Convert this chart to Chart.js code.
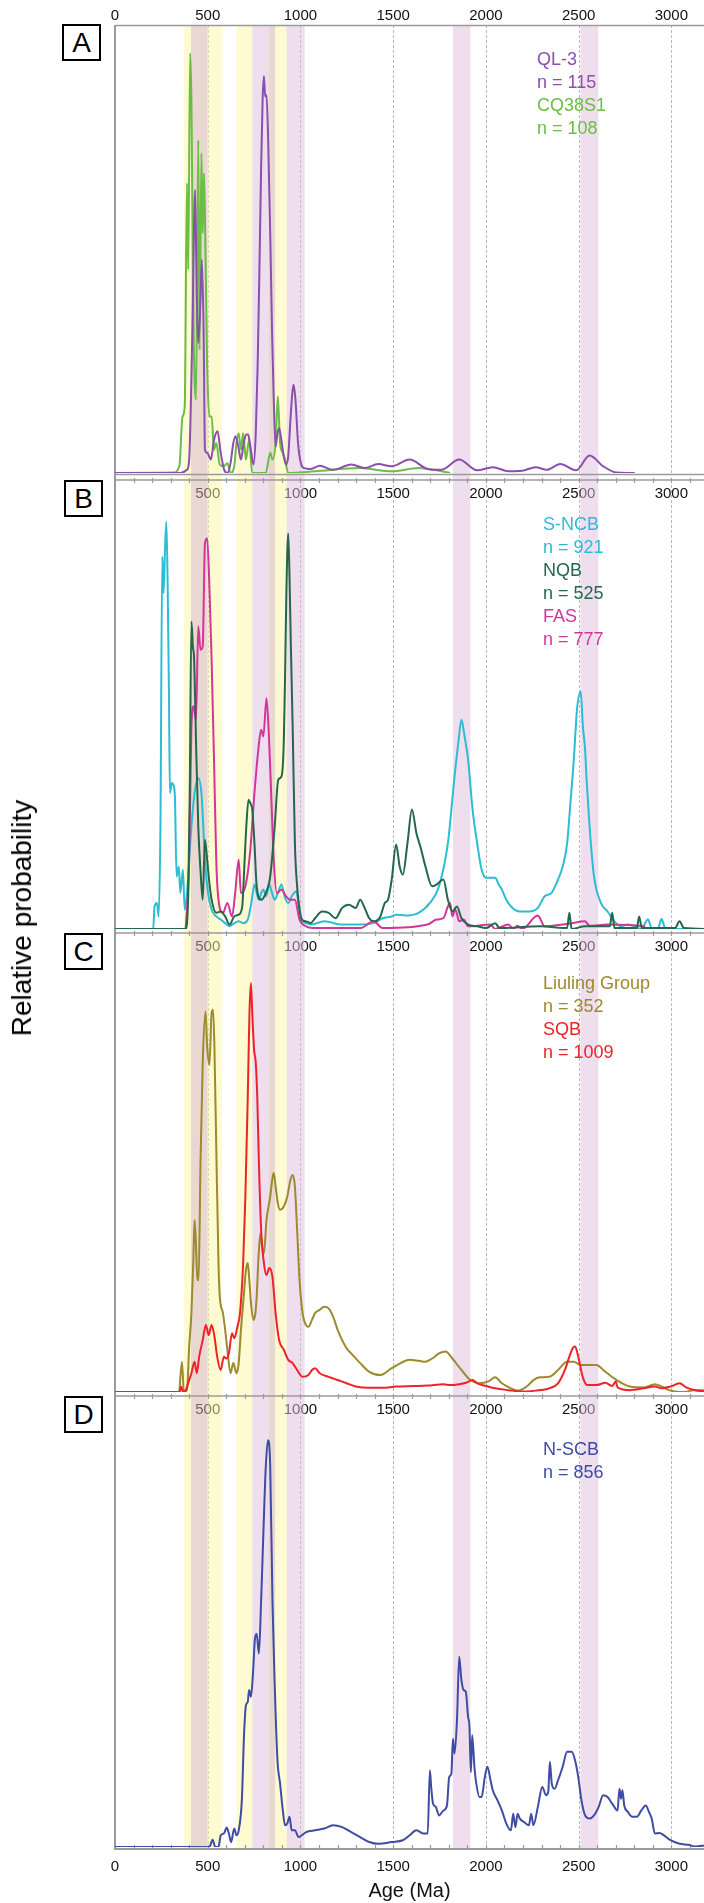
<!DOCTYPE html>
<html><head><meta charset="utf-8">
<script src="https://cdn.jsdelivr.net/npm/chart.js@4.4.1/dist/chart.umd.min.js"></script>
<style>
html,body{margin:0;padding:0;background:#fff;}
body{width:704px;height:1903px;position:relative;overflow:hidden;font-family:"Liberation Sans",Arial,sans-serif;}
canvas{position:absolute;left:0;}
.box{position:absolute;border:2px solid #000;box-sizing:border-box;width:39px;height:37px;font-size:28px;line-height:33px;text-align:center;color:#000;background:#fff;}
.leg{position:absolute;font-size:18px;line-height:23px;white-space:nowrap;}
#ylab{position:absolute;left:22px;top:918px;transform:translate(-50%,-50%) rotate(-90deg);font-size:28px;white-space:nowrap;color:#000;}
</style></head>
<body>
<canvas id="cA"></canvas><canvas id="cB"></canvas><canvas id="cC"></canvas><canvas id="cD"></canvas>
<div class="box" style="left:62px;top:24px;">A</div>
<div class="box" style="left:64px;top:480px;">B</div>
<div class="box" style="left:64px;top:933px;">C</div>
<div class="box" style="left:64px;top:1396px;">D</div>
<div id="ylab">Relative probability</div>
<div class="leg" style="left:537px;top:48px;"><span style="color:#8b4fae">QL-3<br>n = 115</span><br><span style="color:#6abd45">CQ38S1<br>n = 108</span></div>
<div class="leg" style="left:543px;top:513px;"><span style="color:#2bbdd3">S-NCB<br>n = 921</span><br><span style="color:#24684b">NQB<br>n = 525</span><br><span style="color:#d4359a">FAS<br>n = 777</span></div>
<div class="leg" style="left:543px;top:972px;"><span style="color:#9c8a2c">Liuling Group<br>n = 352</span><br><span style="color:#ee2229">SQB<br>n = 1009</span></div>
<div class="leg" style="left:543px;top:1438px;"><span style="color:#3f4ca4">N-SCB<br>n = 856</span></div>
<script>
// ---------- data (age in Ma, relative probability in % of panel height) ----------
const ageTicks = [0, 500, 1000, 1500, 2000, 2500, 3000];
const innerTicks = [500, 1000, 1500, 2000, 2500, 3000];
const bandStart = [370, 410, 500, 655, 740, 828, 864, 926, 1822, 2510];
const bandEnd   = [410, 500, 577, 740, 828, 864, 926, 1022, 1916, 2606];
const bandKind  = ['y','b','y','y','p','b','y','p','p','p'];

const ql3 = [[0,0],[352,0],[388,0.7],[400,3.0],[417,31.2],[432,63.2],[441,38.7],[449,29.0],[461,38.7],[468,47.6],[478,31.2],[485,5.2],[497,4.5],[517,3.0],[534,7.4],[553,9.3],[570,4.5],[589,0.7],[606,0],[623,2.2],[638,6.7],[650,8.2],[665,5.9],[679,3.0],[694,6.7],[708,8.6],[718,8.6],[730,5.9],[747,1.9],[759,8.9],[769,23.8],[779,46.1],[788,68.4],[796,83.3],[803,88.6],[810,84.0],[817,84.4],[825,75.8],[837,53.5],[847,31.2],[856,16.4],[866,5.9],[876,8.9],[885,10.0],[897,7.4],[910,3.7],[922,1.9],[934,3.7],[946,11.9],[956,17.8],[963,19.7],[973,16.4],[987,6.7],[1002,2.2],[1019,1.1],[1055,0.9],[1104,1.6],[1176,0.7],[1274,1.9],[1346,1.1],[1419,2.0],[1492,1.5],[1589,3.0],[1686,0.9],[1759,0.7],[1856,3.0],[1953,0.6],[2037,1.3],[2122,0.4],[2195,0.5],[2268,1.3],[2329,0.7],[2401,2.0],[2486,0.6],[2559,3.9],[2632,1.5],[2705,0.1],[2802,0]];
const cq38s1 = [[0,0],[315,0.1],[347,1.5],[364,12.6],[376,14.9],[388,64.7],[395,45.4],[405,93.7],[412,83.3],[424,31.2],[437,16.4],[449,74.3],[456,27.5],[466,71.4],[473,53.5],[480,66.9],[488,49.1],[497,23.8],[509,12.6],[521,12.6],[534,5.2],[546,6.7],[565,1.9],[587,1.5],[606,2.2],[623,0],[643,1.5],[655,6.7],[667,8.9],[679,5.2],[691,8.9],[706,3.0],[723,7.4],[740,0],[813,0],[837,4.5],[849,3.0],[866,6.7],[878,17.1],[890,6.7],[905,4.5],[917,3.0],[934,0],[1079,0.4],[1322,1.1],[1492,0.4],[1637,1.1],[1734,0.6],[1807,0]];

const sncb = [[0,0],[206,0],[213,5.0],[226,5.8],[235,2.8],[245,22.8],[255,82.9],[262,74.8],[269,83.7],[277,90.7],[284,76.3],[291,52.5],[296,30.3],[306,32.5],[315,32.1],[323,29.5],[332,11.7],[344,13.9],[352,8.0],[366,13.2],[376,4.3],[388,8.0],[412,22.8],[429,30.3],[449,33.6],[466,30.3],[485,15.4],[502,8.0],[521,4.3],[546,2.8],[570,2.1],[594,1.3],[618,0.6],[643,1.3],[667,1.7],[691,1.3],[716,2.1],[735,5.8],[752,9.9],[764,8.0],[776,6.5],[788,8.0],[800,8.8],[815,7.3],[832,9.9],[847,8.0],[861,6.5],[878,8.0],[898,9.9],[914,7.3],[934,5.8],[953,7.3],[978,8.4],[992,5.0],[1007,2.1],[1031,1.3],[1055,1.0],[1128,1.7],[1225,1.0],[1322,1.0],[1395,1.3],[1443,2.4],[1492,2.8],[1516,3.2],[1565,3.0],[1637,3.6],[1698,5.8],[1747,9.5],[1795,19.1],[1831,34.0],[1851,41.4],[1868,46.6],[1885,42.9],[1904,37.7],[1928,26.6],[1953,19.1],[1977,13.2],[2001,11.4],[2025,11.4],[2050,11.4],[2069,9.9],[2086,8.8],[2110,6.5],[2135,5.0],[2183,3.9],[2232,3.9],[2280,4.7],[2317,7.3],[2353,8.0],[2389,11.0],[2414,13.9],[2438,19.1],[2457,28.8],[2474,37.7],[2491,48.8],[2511,52.9],[2523,45.1],[2535,39.9],[2542,34.0],[2559,22.8],[2583,11.7],[2620,5.8],[2656,3.9],[2693,1.7],[2729,0.6],[2765,1.0],[2802,0.6],[2838,0],[2874,2.1],[2894,0.2],[2928,0.2],[2947,2.2],[2967,0.2],[3020,0],[3185,0]];
const nqb = [[0,0],[381,0],[395,8.0],[403,30.3],[412,68.5],[420,62.9],[427,59.9],[437,41.4],[449,22.8],[463,11.7],[473,6.5],[485,19.9],[497,15.4],[509,10.2],[521,6.5],[546,3.6],[570,3.9],[594,2.8],[618,1.0],[643,2.8],[667,3.2],[686,5.0],[699,15.4],[708,22.8],[720,28.8],[730,28.0],[740,26.6],[752,19.1],[764,9.5],[788,6.5],[813,8.0],[837,11.7],[861,22.8],[880,33.2],[898,34.0],[910,41.4],[917,56.2],[924,74.8],[934,88.1],[941,78.5],[948,63.6],[958,45.1],[970,19.1],[982,9.5],[995,4.3],[1007,2.1],[1031,1.7],[1055,1.3],[1079,2.4],[1116,3.9],[1152,3.6],[1189,2.4],[1225,4.7],[1261,5.4],[1298,4.7],[1322,6.5],[1346,4.7],[1371,2.4],[1395,1.7],[1431,2.8],[1455,5.8],[1472,6.5],[1492,11.0],[1516,18.8],[1535,13.9],[1552,12.1],[1577,19.1],[1601,26.6],[1625,21.4],[1649,18.0],[1674,13.9],[1710,9.5],[1734,9.9],[1771,11.0],[1795,6.5],[1819,3.9],[1844,5.0],[1868,2.4],[1904,1.0],[1953,0.6],[2001,0.2],[2050,1.3],[2074,0.2],[2292,0.6],[2438,0.2],[2450,3.6],[2462,0],[2535,0.6],[2668,0.6],[2681,3.6],[2693,0.2],[2814,0.2],[2826,2.8],[2841,0.2],[3020,0.2],[3044,1.7],[3068,0.2],[3185,0]];
const fas = [[381,0],[400,15.4],[412,45.1],[424,49.6],[437,46.6],[449,67.4],[461,62.2],[473,62.9],[485,85.9],[497,87.0],[509,76.3],[521,59.9],[534,37.7],[546,15.4],[558,6.5],[582,3.6],[606,5.8],[631,2.8],[648,8.0],[667,15.4],[679,8.0],[703,9.5],[728,16.9],[752,30.3],[771,39.2],[788,44.4],[800,42.9],[817,51.4],[830,42.9],[842,30.3],[856,15.4],[873,8.0],[898,8.8],[922,7.3],[946,6.5],[970,6.5],[995,2.1],[1031,0.6],[1079,0.2],[1322,0.2],[1395,1.7],[1443,0.2],[1686,1.0],[1734,2.1],[1771,2.4],[1795,5.0],[1807,5.8],[1819,2.8],[1836,4.3],[1856,1.7],[1880,2.1],[1904,0.6],[2025,1.0],[2050,0],[2122,1.0],[2147,0],[2171,0.7],[2195,0],[2280,3.0],[2317,0.6],[2414,1.0],[2462,1.3],[2535,1.7],[2559,0.7],[2656,1.0],[2850,0.6],[2862,0]];

const liuling = [[347,0],[361,6.6],[371,0.1],[388,0.4],[400,9.9],[412,17.2],[422,28.1],[429,37.5],[437,31.7],[444,24.4],[451,24.4],[461,49.9],[473,71.7],[488,82.9],[497,75.3],[509,71.3],[521,82.6],[529,83.3],[536,75.3],[546,53.5],[558,28.1],[565,20.8],[582,17.2],[594,13.5],[606,9.2],[623,4.1],[638,6.3],[655,4.1],[667,6.3],[679,13.5],[694,20.8],[706,26.6],[716,28.1],[723,25.1],[735,18.6],[747,15.7],[757,17.2],[764,20.8],[774,29.5],[784,34.6],[793,31.7],[803,30.2],[817,37.5],[837,42.6],[849,46.6],[856,47.7],[866,44.8],[878,41.1],[890,39.7],[910,40.4],[929,42.6],[946,46.2],[958,47.3],[970,44.8],[982,35.3],[995,24.4],[1007,18.6],[1019,15.7],[1043,14.2],[1062,15.7],[1079,17.2],[1104,17.9],[1128,18.6],[1152,18.2],[1176,16.4],[1201,13.5],[1225,11.3],[1249,9.5],[1273,8.4],[1322,6.3],[1371,4.4],[1431,3.7],[1492,5.2],[1540,6.3],[1589,7.0],[1637,6.8],[1674,6.6],[1710,7.3],[1747,8.4],[1783,8.8],[1819,7.3],[1868,4.8],[1916,2.6],[1965,1.9],[2013,2.3],[2050,3.2],[2086,1.9],[2135,0.8],[2171,0.3],[2220,1.2],[2256,2.6],[2292,3.2],[2341,3.3],[2389,4.8],[2438,6.6],[2474,6.6],[2511,5.9],[2559,5.9],[2595,5.9],[2644,4.4],[2705,2.6],[2777,1.2],[2850,1.0],[2911,1.7],[2947,1.2],[2996,0.3],[3068,0],[3117,0.4],[3185,0.4]];
const sqb = [[0,0],[347,0],[357,1.2],[366,0],[381,0.4],[400,2.6],[412,4.1],[429,6.6],[441,4.1],[454,7.7],[473,11.3],[490,14.6],[505,12.4],[521,14.6],[536,12.1],[551,7.7],[570,4.8],[587,7.7],[599,7.3],[614,8.4],[631,12.8],[643,11.7],[660,14.2],[674,17.2],[691,28.1],[703,42.6],[716,64.4],[725,82.6],[733,89.1],[740,82.6],[750,74.6],[759,71.7],[767,64.4],[776,49.9],[788,35.3],[803,28.1],[817,25.5],[832,27.0],[849,25.1],[866,17.2],[885,11.3],[910,9.2],[934,7.0],[958,6.3],[982,4.8],[1012,3.3],[1043,3.7],[1062,4.8],[1079,5.2],[1104,4.1],[1152,3.3],[1201,2.6],[1249,1.9],[1298,1.2],[1371,0.9],[1443,0.9],[1516,1.2],[1613,1.3],[1686,1.4],[1771,1.7],[1807,1.5],[1856,1.7],[1892,2.0],[1928,2.6],[1953,1.9],[2001,1.3],[2050,0.8],[2122,0.4],[2195,0.1],[2268,0.3],[2341,0.8],[2389,1.9],[2426,4.8],[2450,7.7],[2467,9.5],[2481,9.9],[2498,7.7],[2522,3.3],[2547,1.5],[2595,1.5],[2644,2.0],[2681,1.3],[2700,2.3],[2710,1.0],[2777,0.4],[2850,0.8],[2911,1.2],[2947,0.8],[2996,1.2],[3044,1.9],[3080,1.0],[3129,0.4],[3185,0.1]];

const nscb = [[0,0],[509,0],[526,1.6],[541,0],[558,0],[570,2.6],[587,3.0],[602,4.3],[614,3.0],[626,1.1],[643,4.1],[655,2.6],[667,3.7],[684,10.4],[696,25.1],[706,31.4],[716,32.2],[723,34.8],[733,33.3],[745,39.2],[754,45.9],[764,47.3],[776,42.9],[788,54.7],[800,69.5],[813,84.3],[825,90.2],[837,84.3],[849,54.7],[861,36.2],[876,19.2],[890,14.1],[905,8.1],[917,4.8],[929,5.2],[941,6.7],[953,3.7],[970,3.7],[990,2.2],[1007,2.6],[1031,3.3],[1079,3.7],[1128,4.1],[1176,4.8],[1225,4.4],[1274,3.3],[1322,2.2],[1371,1.1],[1419,0.7],[1492,1.1],[1552,1.5],[1589,2.6],[1625,3.7],[1662,3.0],[1686,3.0],[1698,17.0],[1705,13.3],[1715,9.6],[1730,8.9],[1747,7.0],[1771,8.1],[1790,9.2],[1802,15.5],[1814,16.3],[1822,24.0],[1831,20.7],[1844,28.1],[1856,42.2],[1868,37.0],[1880,34.8],[1892,34.4],[1904,28.8],[1911,27.0],[1919,16.6],[1926,24.8],[1938,17.8],[1948,14.1],[1965,11.1],[1977,11.1],[1994,15.5],[2008,17.8],[2025,14.8],[2037,12.6],[2062,10.4],[2086,8.1],[2110,5.2],[2135,3.7],[2147,7.4],[2159,4.4],[2171,7.4],[2183,6.3],[2207,5.5],[2232,4.8],[2244,7.4],[2256,4.8],[2280,8.9],[2304,13.3],[2324,11.5],[2336,12.2],[2345,18.9],[2355,14.1],[2370,12.9],[2389,14.8],[2414,17.8],[2438,21.1],[2462,21.1],[2481,19.2],[2498,15.5],[2515,10.4],[2535,7.0],[2559,6.3],[2583,7.0],[2608,8.9],[2632,11.5],[2656,11.1],[2681,9.6],[2710,8.1],[2720,12.9],[2729,10.7],[2736,12.6],[2746,9.2],[2765,7.8],[2790,6.7],[2814,6.7],[2838,8.1],[2862,9.2],[2879,7.8],[2894,6.3],[2911,3.0],[2935,3.1],[2960,2.6],[2996,1.5],[3044,0.7],[3093,0.5],[3129,0.1],[3185,0.4]];

// ---------- styling ----------
const FONT = '"Liberation Sans", Arial, sans-serif';
const X_MAX = 3176;
const bandFill = {y:'rgba(253,245,165,0.5)', p:'rgba(221,189,221,0.5)', b:'rgba(211,177,165,0.5)'};
const FRAME = '#9b9b9b';

const decor = {
  id: 'decor',
  beforeDraw(chart, args, o) {
    const {ctx, chartArea: a, scales: {x}} = chart;
    ctx.save();
    ctx.strokeStyle = '#b9b9b9'; ctx.lineWidth = 1; ctx.setLineDash([3, 2]);
    for (const v of innerTicks) {
      const px = Math.round(x.getPixelForValue(v)) + 0.5;
      ctx.beginPath(); ctx.moveTo(px, a.top); ctx.lineTo(px, a.bottom); ctx.stroke();
    }
    ctx.restore();
  },
  beforeDatasetsDraw(chart, args, o) {
    const {ctx, chartArea: a, scales: {x}} = chart;
    const H = chart.height;
    ctx.save();
    const bt = o.panel === 'A' ? a.top : a.top - 4;
    const bb = o.panel === 'A' ? a.bottom + 3 : (o.panel === 'D' ? a.bottom + 2 : a.bottom);
    for (let i = 0; i < bandStart.length; i++) {
      const x0 = x.getPixelForValue(bandStart[i]), x1 = x.getPixelForValue(bandEnd[i]);
      ctx.fillStyle = bandFill[bandKind[i]];
      ctx.fillRect(x0, bt, x1 - x0, bb - bt);
    }
    ctx.strokeStyle = FRAME; ctx.fillStyle = FRAME;
    ctx.lineWidth = 2;
    ctx.beginPath();
    ctx.moveTo(a.left, o.panel === 'A' ? a.top : 0);
    ctx.lineTo(a.left, o.panel === 'D' ? a.bottom + 3 : H);
    ctx.stroke();
    ctx.lineWidth = 1.5;
    if (o.panel === 'A') {
      ctx.beginPath(); ctx.moveTo(a.left, a.top + 0.5); ctx.lineTo(a.right, a.top + 0.5); ctx.stroke();
      ctx.beginPath(); ctx.moveTo(a.left, a.bottom + 1.5); ctx.lineTo(a.right, a.bottom + 1.5); ctx.stroke();
    } else {
      ctx.beginPath(); ctx.moveTo(a.left, a.top); ctx.lineTo(a.right, a.top); ctx.stroke();
      ctx.lineWidth = 1.2;
      for (let v = 0; v <= X_MAX; v += 100) {
        const px = Math.round(x.getPixelForValue(v)) + 0.5;
        ctx.beginPath(); ctx.moveTo(px, a.top - 2); ctx.lineTo(px, a.top + 3); ctx.stroke();
      }
    }
    if (o.panel === 'D') {
      const yb = a.bottom + 2;
      ctx.lineWidth = 2;
      ctx.beginPath(); ctx.moveTo(a.left, yb); ctx.lineTo(a.right, yb); ctx.stroke();
      ctx.lineWidth = 1.2;
      for (let v = 0; v <= X_MAX; v += 100) {
        const px = Math.round(x.getPixelForValue(v)) + 0.5;
        ctx.beginPath(); ctx.moveTo(px, yb - 4); ctx.lineTo(px, yb); ctx.stroke();
      }
    }
    ctx.restore();
  }
};

function ds(points, color) {
  return {
    data: points.map(p => ({x: p[0], y: p[1]})),
    borderColor: color, borderWidth: 2, pointRadius: 0, fill: false,
    cubicInterpolationMode: 'monotone'
  };
}

function setTicks(vals) {
  return (s) => { s.ticks = vals.map(v => ({value: v})); };
}
const plainLabel = (v) => String(v);

function makePanel(id, top, height, padTop, padBottom, panel, datasets, topMirror, bottomAxis) {
  const cv = document.getElementById(id);
  cv.width = 704; cv.height = height;
  cv.style.top = top + 'px'; cv.style.width = '704px'; cv.style.height = height + 'px';
  const scales = {
    x: {
      type: 'linear', position: 'top', min: 0, max: X_MAX,
      afterBuildTicks: setTicks(topMirror ? innerTicks : ageTicks),
      afterFit: (s) => { s.height = topMirror ? 0 : 25; },
      grid: {display: false, drawTicks: false},
      border: {display: false},
      ticks: {
        mirror: topMirror, padding: topMirror ? 5 : 0, autoSkip: false, maxRotation: 0,
        color: '#111', font: {family: FONT, size: 15}, callback: plainLabel
      }
    },
    y: {display: false, min: 0, max: 100}
  };
  if (bottomAxis) {
    scales.x2 = {
      type: 'linear', position: 'bottom', min: 0, max: X_MAX,
      afterBuildTicks: setTicks(ageTicks),
      afterFit: (s) => { s.height = 56; },
      grid: {display: false, drawTicks: false},
      border: {display: false},
      ticks: {padding: 11, autoSkip: false, maxRotation: 0, color: '#111', font: {family: FONT, size: 15}, callback: plainLabel},
      title: {display: true, text: 'Age (Ma)', color: '#111', font: {family: FONT, size: 20}, padding: {top: 0, bottom: 0}}
    };
  }
  new Chart(cv, {
    type: 'line',
    data: {datasets},
    options: {
      responsive: false, animation: false, devicePixelRatio: 1,
      layout: {padding: {left: 115, right: 0, top: padTop, bottom: padBottom}},
      plugins: {legend: {display: false}, tooltip: {enabled: false}, decor: {panel}},
      scales
    },
    plugins: [decor]
  });
}

makePanel('cA', 0, 476, 0, 3, 'A', [ds(ql3, '#8b4fae'), ds(cq38s1, '#6abd45')], false, false);
makePanel('cB', 476, 456, 4, 3, 'B', [ds(nqb, '#24684b'), ds(fas, '#d4359a'), ds(sncb, '#2bbdd3')], true, false);
makePanel('cC', 929, 466, 4, 3, 'C', [ds(sqb, '#ee2229'), ds(liuling, '#9c8a2c')], true, false);
makePanel('cD', 1392, 511, 4, 0, 'D', [ds(nscb, '#3f4ca4')], true, true);
</script>
</body></html>
